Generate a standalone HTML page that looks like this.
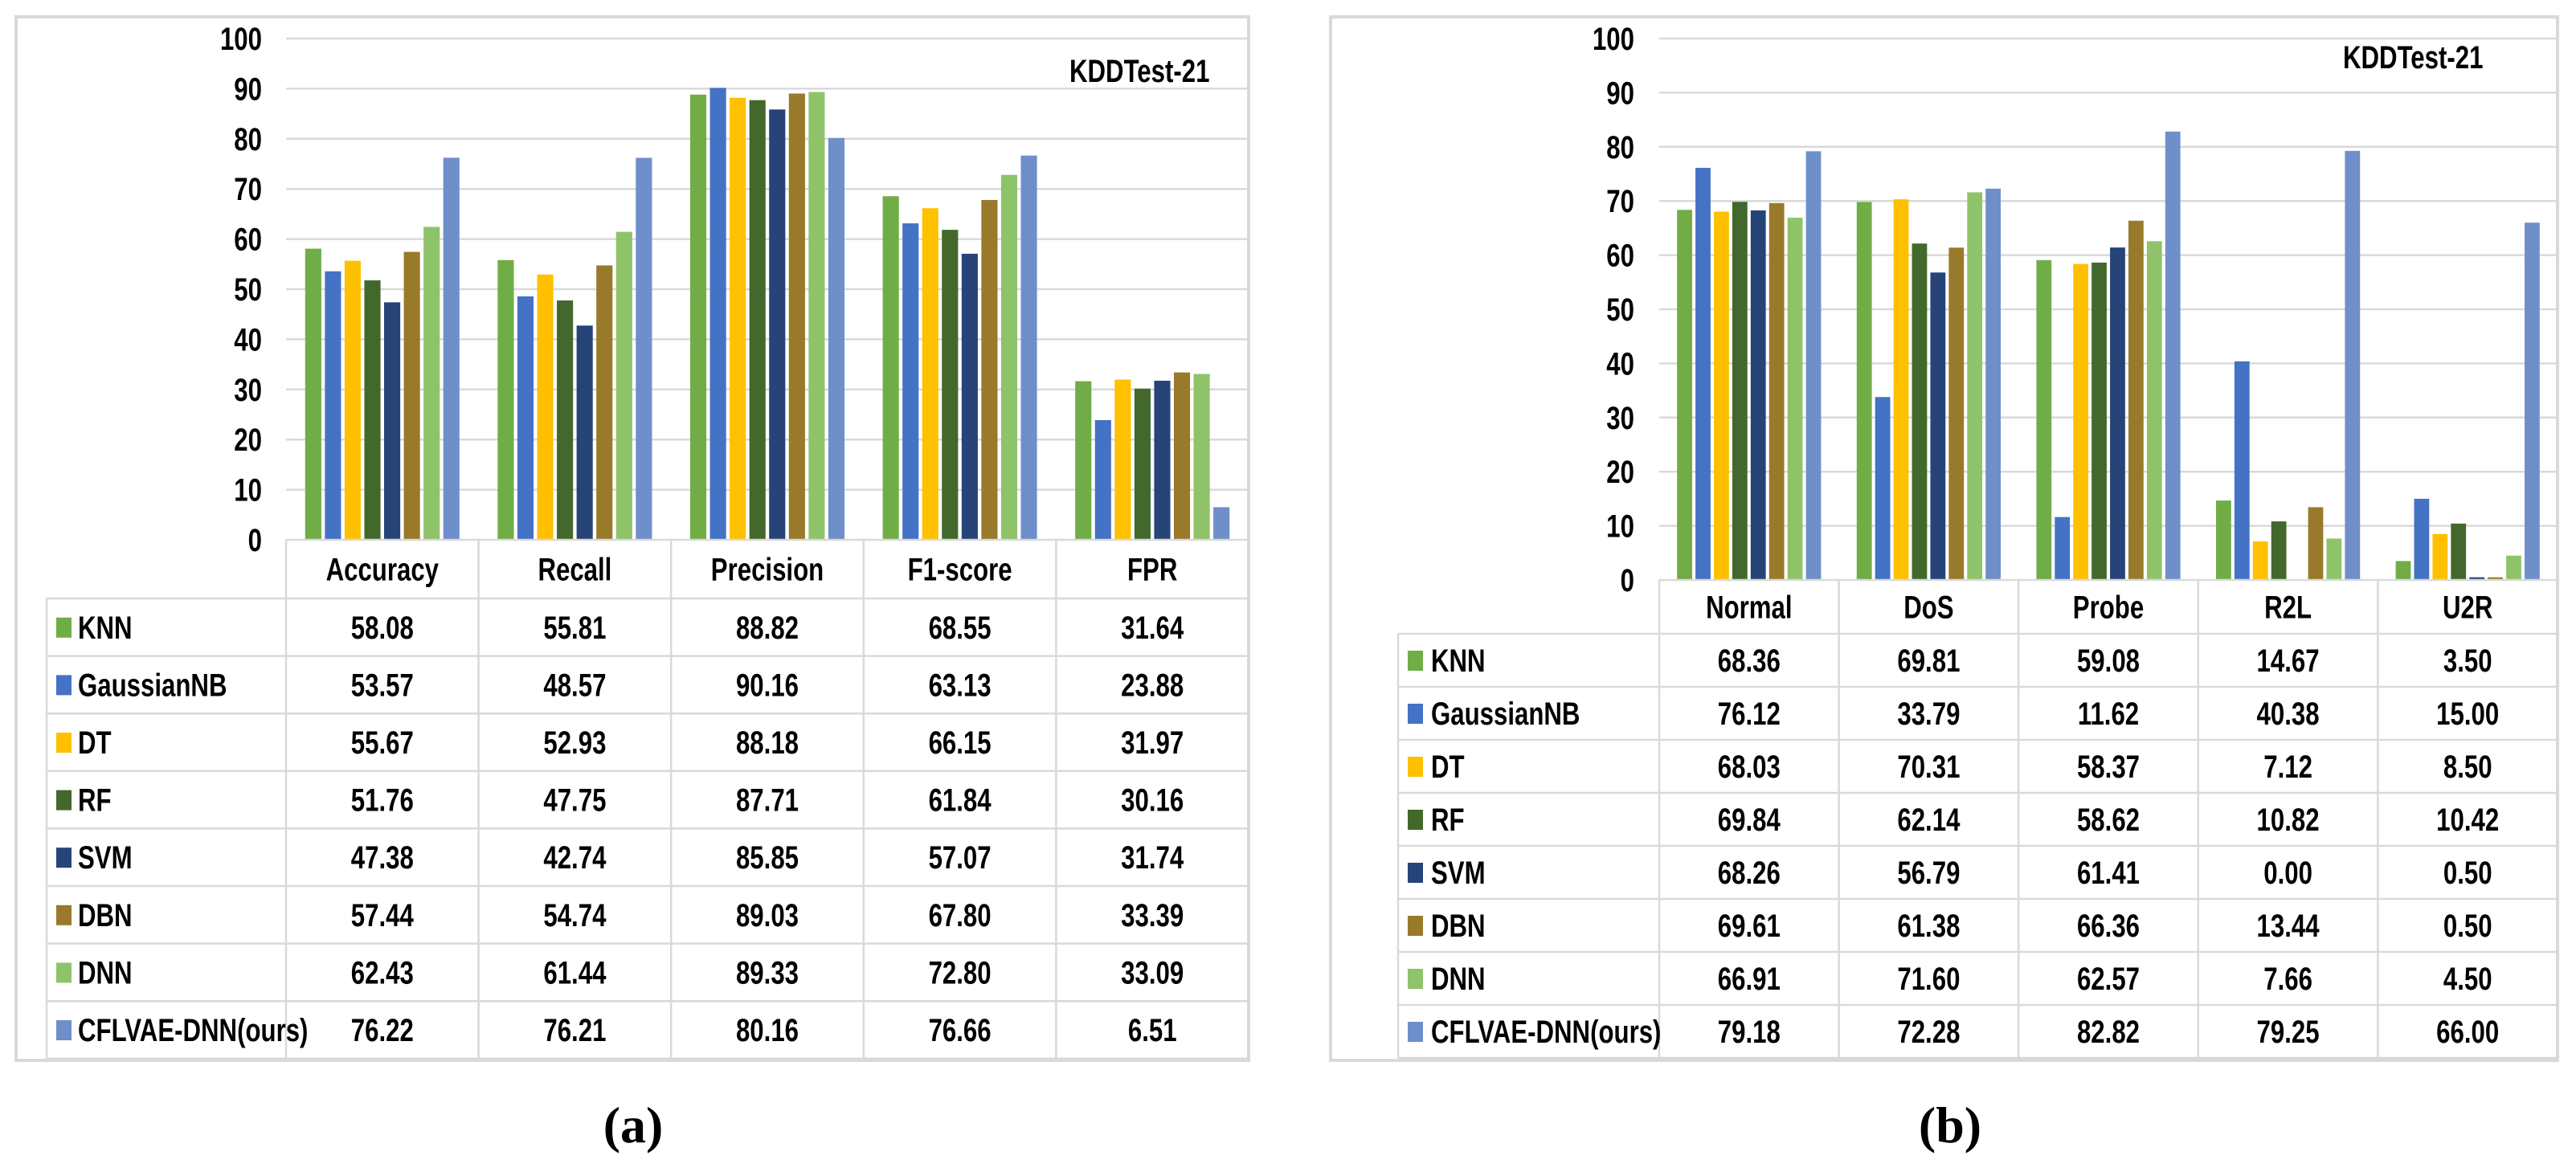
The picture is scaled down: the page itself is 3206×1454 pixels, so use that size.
<!DOCTYPE html>
<html><head><meta charset="utf-8">
<style>
html,body{margin:0;padding:0;background:#fff;}
svg{display:block;}
text{font-family:"Liberation Sans",sans-serif;font-weight:bold;fill:#000;}
.cap{font-family:"Liberation Serif",serif;}
</style></head>
<body>
<svg id="fig" width="3206" height="1454" viewBox="0 0 3206 1454" xmlns="http://www.w3.org/2000/svg"></svg>
<script>
const models = ["KNN","GaussianNB","DT","RF","SVM","DBN","DNN","CFLVAE-DNN(ours)"];
const colors = ["#70ad47","#4472c4","#ffc000","#43682b","#264478","#997a2b","#8fc36a","#6e8fca"];
const yTicks = [0,10,20,30,40,50,60,70,80,90,100];
const catsA = ["Accuracy","Recall","Precision","F1-score","FPR"];
const knnA = [58.08,55.81,88.82,68.55,31.64];
const gnbA = [53.57,48.57,90.16,63.13,23.88];
const dtA  = [55.67,52.93,88.18,66.15,31.97];
const rfA  = [51.76,47.75,87.71,61.84,30.16];
const svmA = [47.38,42.74,85.85,57.07,31.74];
const dbnA = [57.44,54.74,89.03,67.80,33.39];
const dnnA = [62.43,61.44,89.33,72.80,33.09];
const oursA= [76.22,76.21,80.16,76.66,6.51];
const catsB = ["Normal","DoS","Probe","R2L","U2R"];
const knnB = [68.36,69.81,59.08,14.67,3.50];
const gnbB = [76.12,33.79,11.62,40.38,15.00];
const dtB  = [68.03,70.31,58.37,7.12,8.50];
const rfB  = [69.84,62.14,58.62,10.82,10.42];
const svmB = [68.26,56.79,61.41,0.00,0.50];
const dbnB = [69.61,61.38,66.36,13.44,0.50];
const dnnB = [66.91,71.60,62.57,7.66,4.50];
const oursB= [79.18,72.28,82.82,79.25,66.00];

const NS="http://www.w3.org/2000/svg";
const svg=document.getElementById('fig');
const SX=0.78;
function mk(tag,attrs,parent){const e=document.createElementNS(NS,tag);for(const k in attrs)e.setAttribute(k,attrs[k]);(parent||svg).appendChild(e);return e;}
function txt(x,y,anchor,size,parent){
  return mk('text',{x:x,y:y,'text-anchor':anchor,'font-size':size,transform:`translate(${x} 0) scale(${SX} 1) translate(${-x} 0)`},parent);
}

function chart(id,cfg,cats,series){
  const g=mk('g',{});
  
  
  const {fl,ft,fr,fb,pl,y0,y100,tl,rowH,ylabR,sqX,txtX,kx,ky}=cfg;
  const pr=fr;
  const catW=(pr-pl)/cats.length;
  const yS=v=>y0-(y0-y100)*v/100;
  const fr1=mk('rect',{x:fl,y:ft,width:fr-fl,height:fb-ft,fill:'#fff',stroke:'#d9d9d9','stroke-width':4},g);
  
  
  yTicks.forEach(t=>{
    const y=yS(t);
    if(t>0){const l=mk('line',{x1:pl,x2:pr,y1:y,y2:y,stroke:'#d9d9d9','stroke-width':2.5},g);
      
      }
    const tx=txt(ylabR,y+14,'end',40,g);
    tx.textContent=t;
    
    
  });
  const barW=catW*0.084, pitch=catW*0.1025;
  const off=(catW-(7*pitch+barW))/2;
  series.forEach((s,si)=>{
    s.forEach((v,ci)=>{
      const x=pl+ci*catW+off+si*pitch;
      const y=yS(v);
      const r=mk('rect',{x:x,y:y,width:barW,height:Math.max(0,y0-y),fill:colors[si]},g);
      
      
    });
  });
  const tb=tl+rowH*8;
  const lc='#d9d9d9';
  mk('line',{x1:pl,x2:pr,y1:y0,y2:y0,stroke:lc,'stroke-width':2.5},g);
  for(let i=0;i<=cats.length;i++){const x=pl+i*catW;mk('line',{x1:x,x2:x,y1:y0,y2:tb,stroke:lc,'stroke-width':2.5},g);}
  mk('line',{x1:sqX-12,x2:sqX-12,y1:tl,y2:tb,stroke:lc,'stroke-width':2.5},g);
  for(let i=0;i<=8;i++){const y=tl+i*rowH;mk('line',{x1:sqX-12,x2:pr,y1:y,y2:y,stroke:lc,'stroke-width':2.5},g);}
  cats.forEach((c,ci)=>{
    const t=txt(pl+(ci+0.5)*catW,(y0+tl)/2+14,'middle',40,g);
    t.textContent=c;
    
    
  });
  series.forEach((s,si)=>{
    const cy=tl+(si+0.5)*rowH;
    const sq=mk('rect',{x:sqX,y:cy-12,width:19,height:25,fill:colors[si]},g);
    
    
    const t=txt(txtX,cy+14,'start',40,g);
    t.textContent=models[si];
    
    
    s.forEach((v,ci)=>{
      const tv=txt(pl+(ci+0.5)*catW,cy+14,'middle',40,g);
      tv.textContent=v.toFixed(2);
      
      
    });
  });
  const k=txt(kx,ky,'start',40,g);
  k.textContent='KDDTest-21';
  
  
}

chart('chart-a',{fl:20,ft:21,fr:1554,fb:1320,pl:356,y0:672,y100:48,tl:745,rowH:71.6,ylabR:326,sqX:70,txtX:97,kx:1331,ky:102},
  catsA,[knnA,gnbA,dtA,rfA,svmA,dbnA,dnnA,oursA]);
chart('chart-b',{fl:1656,ft:21,fr:3183,fb:1320,pl:2065,y0:722,y100:48,tl:789,rowH:66,ylabR:2034,sqX:1752,txtX:1781,kx:2916,ky:85},
  catsB,[knnB,gnbB,dtB,rfB,svmB,dbnB,dnnB,oursB]);

const ca=mk('text',{x:788,y:1422,'text-anchor':'middle','font-size':64,class:'cap'});
ca.textContent='(a)';


const cb=mk('text',{x:2427,y:1422,'text-anchor':'middle','font-size':64,class:'cap'});
cb.textContent='(b)';


</script>
</body></html>
